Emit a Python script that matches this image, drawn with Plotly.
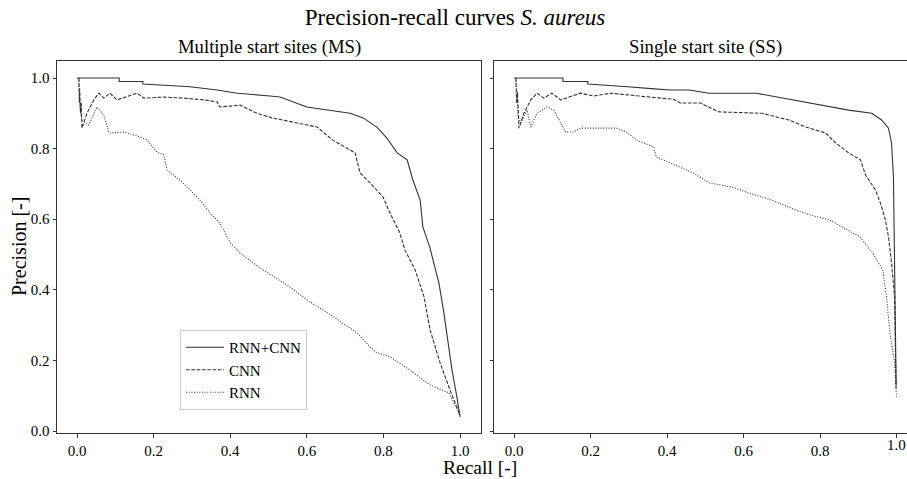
import plotly.graph_objects as go

# ---- Data: Multiple start sites (MS) ----
ms_rnncnn_recall = [0.0, 0.11, 0.11, 0.172, 0.172, 0.227, 0.295, 0.366, 0.418, 0.504, 0.53, 0.60, 0.66,
                    0.713, 0.747, 0.783, 0.809, 0.836, 0.862, 0.877, 0.896, 0.903, 0.921, 0.945, 0.958,
                    0.971, 0.979, 0.992, 1.0]
ms_rnncnn_precision = [1.0, 1.0, 0.99, 0.99, 0.983, 0.98, 0.975, 0.966, 0.957, 0.949, 0.946, 0.918, 0.908,
                       0.90, 0.887, 0.861, 0.83, 0.788, 0.768, 0.711, 0.654, 0.578, 0.521, 0.419, 0.334,
                       0.238, 0.173, 0.096, 0.04]

ms_cnn_recall = [0.005, 0.006, 0.007, 0.009, 0.011, 0.013, 0.026, 0.044, 0.057, 0.07, 0.086, 0.104, 0.157,
                 0.175, 0.227, 0.279, 0.332, 0.366, 0.373, 0.426, 0.47, 0.509, 0.538, 0.627, 0.668, 0.713,
                 0.726, 0.739, 0.765, 0.799, 0.817, 0.843, 0.856, 0.883, 0.906, 0.922, 0.948, 0.974, 1.0]
ms_cnn_precision = [1.0, 0.93, 0.97, 0.90, 0.93, 0.858, 0.90, 0.938, 0.957, 0.943, 0.957, 0.938, 0.957,
                    0.943, 0.946, 0.943, 0.938, 0.932, 0.918, 0.923, 0.90, 0.887, 0.881, 0.861, 0.824, 0.796,
                    0.788, 0.731, 0.703, 0.663, 0.618, 0.561, 0.513, 0.456, 0.38, 0.286, 0.193, 0.116, 0.045]

ms_rnn_recall = [0.005, 0.008, 0.012, 0.031, 0.052, 0.07, 0.084, 0.123, 0.165, 0.183, 0.209, 0.227, 0.235,
                 0.269, 0.295, 0.321, 0.347, 0.373, 0.399, 0.426, 0.478, 0.556, 0.601, 0.671, 0.731, 0.778,
                 0.817, 0.869, 0.922, 0.971, 1.0]
ms_rnn_precision = [1.0, 0.92, 0.88, 0.867, 0.918, 0.895, 0.844, 0.847, 0.833, 0.824, 0.79, 0.782, 0.739,
                    0.711, 0.683, 0.654, 0.618, 0.589, 0.535, 0.504, 0.462, 0.408, 0.371, 0.323, 0.278, 0.224,
                    0.21, 0.173, 0.13, 0.108, 0.045]

# ---- Data: Single start site (SS) ----
ss_rnncnn_recall = [0.0, 0.128, 0.128, 0.193, 0.193, 0.242, 0.297, 0.359, 0.409, 0.458, 0.51, 0.633, 0.719,
                    0.805, 0.875, 0.935, 0.961, 0.979, 0.987, 0.992, 0.995, 0.997, 0.999]
ss_rnncnn_precision = [1.0, 1.0, 0.99, 0.99, 0.983, 0.98, 0.975, 0.97, 0.966, 0.966, 0.957, 0.957, 0.94,
                       0.924, 0.909, 0.90, 0.881, 0.858, 0.816, 0.72, 0.428, 0.25, 0.13]

ss_cnn_recall = [0.005, 0.007, 0.009, 0.011, 0.013, 0.026, 0.044, 0.06, 0.078, 0.099, 0.122, 0.174, 0.208,
                 0.253, 0.32, 0.383, 0.417, 0.435, 0.487, 0.536, 0.648, 0.719, 0.763, 0.815, 0.841, 0.875,
                 0.906, 0.919, 0.945, 0.958, 0.971, 0.979, 0.987, 0.995, 0.997, 0.999]
ss_cnn_precision = [1.0, 0.93, 0.96, 0.90, 0.858, 0.90, 0.938, 0.957, 0.943, 0.957, 0.938, 0.957, 0.949,
                    0.957, 0.949, 0.943, 0.94, 0.929, 0.929, 0.904, 0.90, 0.881, 0.861, 0.844, 0.816, 0.788,
                    0.768, 0.725, 0.683, 0.646, 0.598, 0.55, 0.476, 0.38, 0.238, 0.12]

ss_rnn_recall = [0.005, 0.008, 0.011, 0.018, 0.034, 0.044, 0.06, 0.086, 0.104, 0.122, 0.135, 0.156, 0.174,
                 0.208, 0.268, 0.294, 0.32, 0.365, 0.372, 0.409, 0.469, 0.51, 0.57, 0.615, 0.674, 0.737,
                 0.781, 0.825, 0.875, 0.904, 0.938, 0.964, 0.974, 0.982, 0.995, 1.0]
ss_rnn_precision = [1.0, 0.93, 0.89, 0.873, 0.909, 0.861, 0.90, 0.918, 0.909, 0.873, 0.847, 0.847, 0.858,
                    0.858, 0.858, 0.847, 0.824, 0.805, 0.776, 0.759, 0.731, 0.703, 0.691, 0.674, 0.654, 0.626,
                    0.61, 0.598, 0.569, 0.55, 0.504, 0.456, 0.38, 0.286, 0.193, 0.097]

model_names = ["RNN+CNN", "CNN", "RNN"]
dashes = {"RNN+CNN": "solid", "CNN": "3.7px,1.6px", "RNN": "1px,1.65px"}
tick_vals = [0.0, 0.2, 0.4, 0.6, 0.8, 1.0]
tick_text = ["0.0", "0.2", "0.4", "0.6", "0.8", "1.0"]

FONT = "'Liberation Serif', 'DejaVu Serif', serif"
LINE = "#333333"

fig = go.Figure()
ms = {"RNN+CNN": (ms_rnncnn_recall, ms_rnncnn_precision),
      "CNN": (ms_cnn_recall, ms_cnn_precision),
      "RNN": (ms_rnn_recall, ms_rnn_precision)}
ss = {"RNN+CNN": (ss_rnncnn_recall, ss_rnncnn_precision),
      "CNN": (ss_cnn_recall, ss_cnn_precision),
      "RNN": (ss_rnn_recall, ss_rnn_precision)}

for name in model_names:
    x, y = ms[name]
    fig.add_trace(go.Scatter(x=x, y=y, mode="lines", name=name, xaxis="x", yaxis="y",
                             line=dict(color=LINE, width=1.1, dash=dashes[name]), showlegend=True))
for name in model_names:
    x, y = ss[name]
    fig.add_trace(go.Scatter(x=x, y=y, mode="lines", name=name, xaxis="x2", yaxis="y2",
                             line=dict(color=LINE, width=1.1, dash=dashes[name]), showlegend=False))

W, H = 907, 479
ML, MR, MT, MB = 57, 0, 61, 46
PW = W - ML - MR
PH = H - MT - MB

def px_x(p):
    return (p - ML) / PW

def px_y(p):
    return (H - MB - p) / PH

left_dom = [0.0, px_x(481)]
right_dom = [px_x(494), 1.0]
R_SCALE = 382.5  # px per unit recall, right panel

axis_common = dict(showgrid=False, zeroline=False, showline=True, linecolor=LINE, linewidth=1,
                   ticks="outside", ticklen=3.5, tickwidth=0.8, tickcolor=LINE, automargin=False,
                   ticklabeloverflow="allow",
                   tickfont=dict(family=FONT, size=15, color="black"))

# right panel: last tick label (at the figure edge) is drawn as an annotation since plotly hides it
right_ticktext = tick_text[:-1] + [""]

fig.update_layout(
    width=W, height=H,
    margin=dict(l=ML, r=MR, t=MT, b=MB, autoexpand=False),
    paper_bgcolor="white", plot_bgcolor="white",
    font=dict(family=FONT, color="black"),
    title=dict(text="Precision-recall curves <i>S. aureus</i>", x=455 / W, xanchor="center",
               y=1 - 17 / H, yanchor="middle", font=dict(family=FONT, size=23, color="black")),
    xaxis=dict(domain=left_dom, range=[-20 / 383, -20 / 383 + 424 / 383], mirror=True, anchor="y",
               tickvals=tick_vals, ticktext=tick_text, **axis_common),
    yaxis=dict(domain=[0, 1], range=[-2 / 353, -2 / 353 + 372 / 353], mirror=True, anchor="x",
               tickvals=tick_vals, ticktext=tick_text, **axis_common),
    xaxis2=dict(domain=right_dom, range=[-20 / R_SCALE, -20 / R_SCALE + 413 / R_SCALE], mirror=True,
                anchor="y2", tickvals=tick_vals, ticktext=right_ticktext, **axis_common),
    yaxis2=dict(domain=[0, 1], range=[-2 / 353, -2 / 353 + 372 / 353], anchor="x2", matches="y",
                showticklabels=False, tickvals=tick_vals, ticktext=tick_text, **axis_common),
    legend=dict(x=px_x(180), y=px_y(330), xanchor="left", yanchor="top",
                bgcolor="white", bordercolor="#cccccc", borderwidth=1,
                font=dict(family=FONT, size=15, color="black"),
                tracegroupgap=0, itemwidth=38),
    annotations=[
        dict(text="Multiple start sites (MS)", x=px_x(269), y=1, xref="paper", yref="paper",
             xanchor="center", yanchor="bottom", yshift=1, showarrow=False,
             font=dict(family=FONT, size=18.7, color="black")),
        dict(text="Single start site (SS)", x=px_x(705), y=1, xref="paper", yref="paper",
             xanchor="center", yanchor="bottom", yshift=1, showarrow=False,
             font=dict(family=FONT, size=18.7, color="black")),
        dict(text="Recall [-]", x=px_x(480), y=px_y(468), xref="paper", yref="paper",
             xanchor="center", yanchor="middle", showarrow=False,
             font=dict(family=FONT, size=19.5, color="black")),
        dict(text="Precision [-]", x=px_x(19), y=px_y(247), xref="paper", yref="paper",
             xanchor="center", yanchor="middle", textangle=-90, showarrow=False,
             font=dict(family=FONT, size=20, color="black")),
        dict(text=tick_text[-1], x=tick_vals[-1], xref="x2", y=0, yref="paper",
             xanchor="center", yanchor="top", yshift=-2, showarrow=False,
             font=dict(family=FONT, size=15, color="black")),
    ],
)

fig.write_html("out.html", config={"displayModeBar": False},
               post_script="document.body.style.margin='0';document.body.style.padding='0';"
                           "document.body.style.overflow='hidden';")
